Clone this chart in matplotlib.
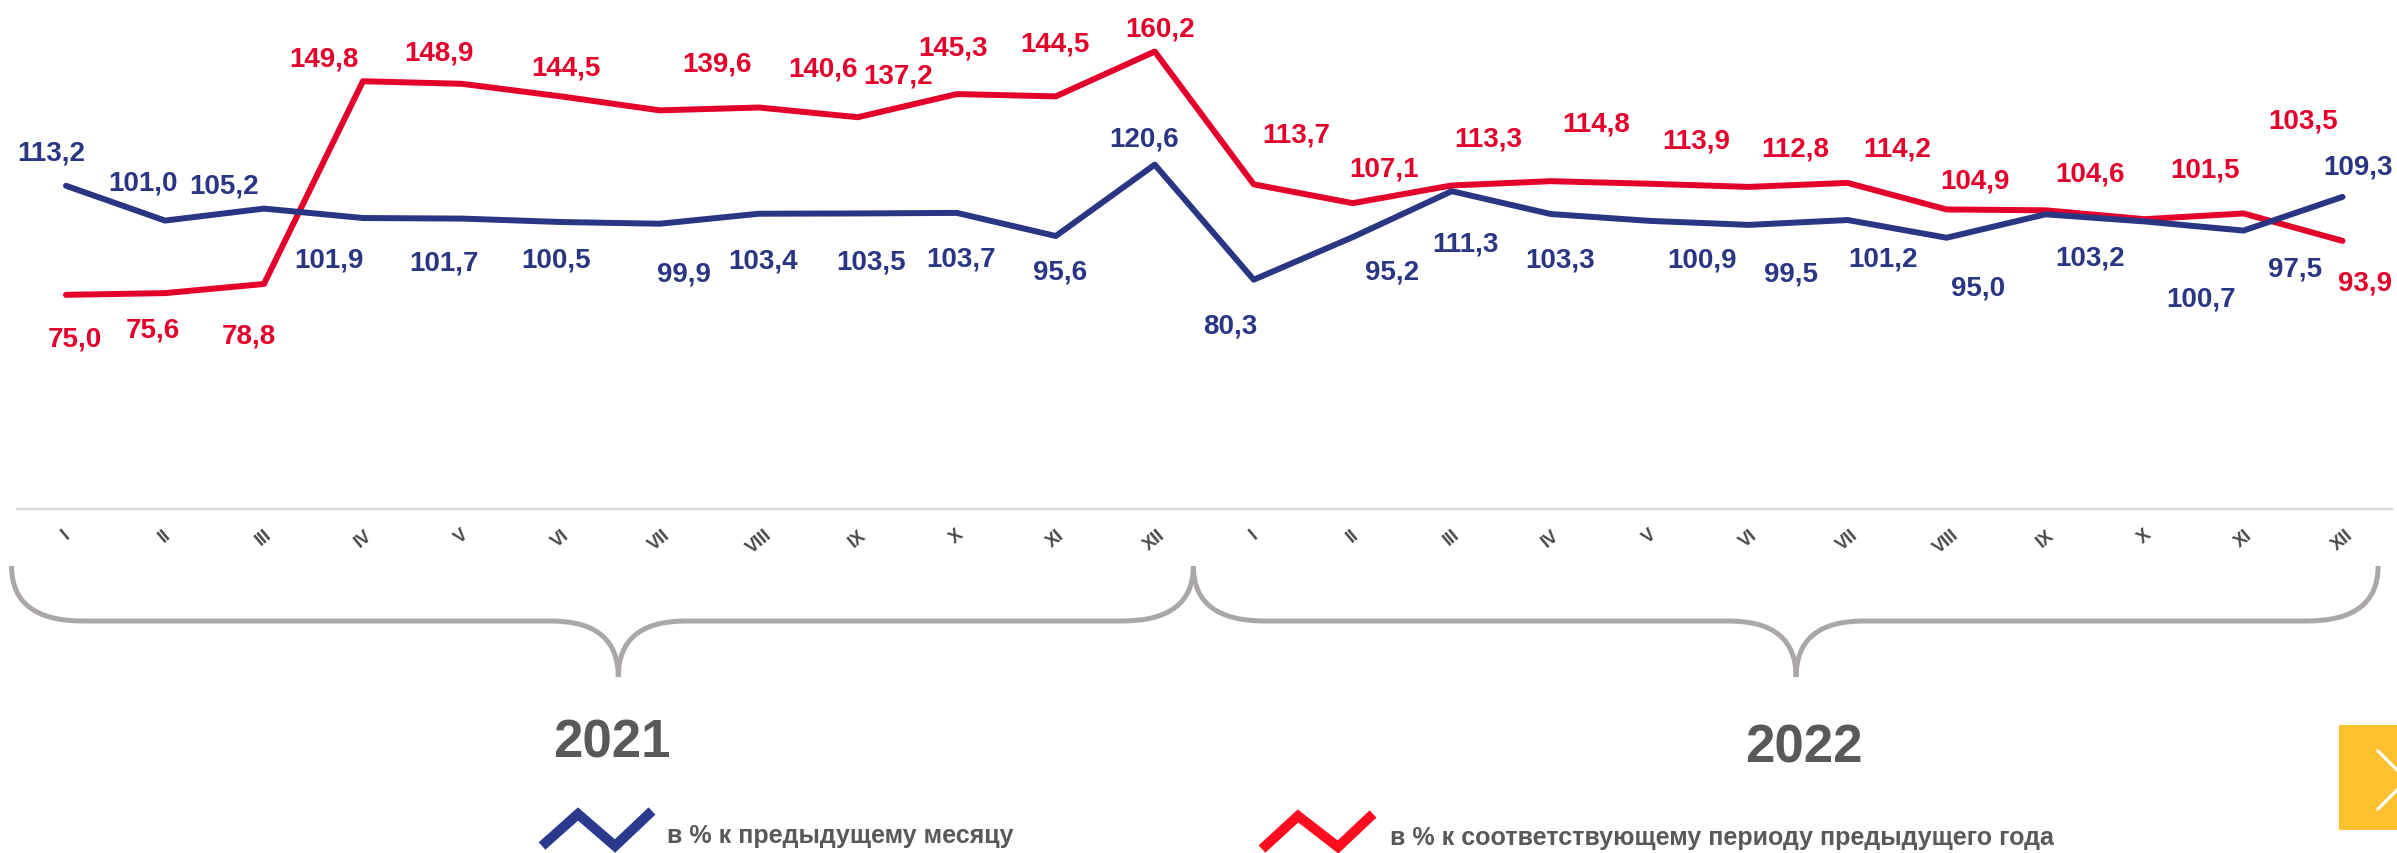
import numpy as np
import matplotlib
matplotlib.use("Agg")
import matplotlib.pyplot as plt
from matplotlib import transforms
from matplotlib.path import Path
from matplotlib.patches import PathPatch, Rectangle
from matplotlib.lines import Line2D

plt.rcParams['font.family'] = ['Liberation Sans', 'DejaVu Sans']

# --- data -------------------------------------------------------------
months = ['I', 'II', 'III', 'IV', 'V', 'VI', 'VII', 'VIII', 'IX', 'X', 'XI', 'XII']
years = ['2021', '2022']
labels_x = months * 2

# в % к предыдущему месяцу
prev_month = [113.2, 101.0, 105.2, 101.9, 101.7, 100.5, 99.9, 103.4, 103.5, 103.7, 95.6, 120.6,
              80.3, 95.2, 111.3, 103.3, 100.9, 99.5, 101.2, 95.0, 103.2, 100.7, 97.5, 109.3]
# в % к соответствующему периоду предыдущего года
prev_year = [75.0, 75.6, 78.8, 149.8, 148.9, 144.5, 139.6, 140.6, 137.2, 145.3, 144.5, 160.2,
             113.7, 107.1, 113.3, 114.8, 113.9, 112.8, 114.2, 104.9, 104.6, 101.5, 103.5, 93.9]

legend_texts = ['в % к предыдущему месяцу',
                'в % к соответствующему периоду предыдущего года']

# label offsets (pixels, +y = down)
red_off = [(9, 44), (-12, 36), (-15, 52), (-39, -23), (-23, -31), (5, -29), (57, -47), (64, -39),
           (40, -42), (-4, -47), (-1, -53), (5, -23),
           (43, -50), (31, -35), (37, -47), (46, -58), (47, -43), (47, -38), (50, -34), (28, -29),
           (44, -37), (60, -50), (60, -93), (22, 42)]
blue_off = [(-15, -33), (-22, -38), (-40, -23), (-34, 41), (-18, 44), (-5, 37), (24, 50), (4, 47),
            (13, 48), (4, 46), (4, 35), (-11, -26),
            (-23, 46), (39, 34), (14, 52), (9, 45), (52, 39), (42, 49), (35, 38), (31, 50),
            (44, 43), (57, 77), (52, 38), (15, -30)]

BLUE = '#2a3583'
RED = '#e3002b'
GREY_TXT = '#595959'
BRACE = '#aba7a7'

W, H = 2397, 854
fig = plt.figure(figsize=(W / 100, H / 100), dpi=100)
# pixel coords with origin at top-left
pix = transforms.Affine2D().scale(1, -1).translate(0, H)

ax = fig.add_axes([16.5 / W, (H - 510) / H, (2392 - 16.5) / W, 510 / H])
x = np.arange(len(labels_x))
ax.plot(x, prev_year, color=RED, lw=4.3, solid_capstyle='round', zorder=3)
ax.plot(x, prev_month, color=BLUE, lw=4.3, solid_capstyle='round', zorder=4)
ax.set_xlim(-0.5, 23.5)
ax.set_ylim(0, 178.6)

ax.set_xticks(x, labels_x, rotation=40, ha='center', fontsize=13, fontweight='bold',
              color='#4a4a4a')
ax.tick_params(axis='x', length=0, pad=12)
ax.set_yticks([])
for s in ['top', 'left', 'right']:
    ax.spines[s].set_visible(False)
ax.spines['bottom'].set_color('#d9d9d9')
ax.spines['bottom'].set_linewidth(1.6)
ax.patch.set_alpha(0)

for vals, offs, col in [(prev_year, red_off, RED), (prev_month, blue_off, BLUE)]:
    for i, (v, (dx, dy)) in enumerate(zip(vals, offs)):
        ax.annotate(f"{v:.1f}".replace('.', ','), (i, v), xytext=(dx, -dy),
                    textcoords='offset pixels', ha='center', va='center',
                    fontsize=20, fontweight='bold', color=col, annotation_clip=False)

# --- braces under the month axis -----------------------------------------
btr = transforms.blended_transform_factory(ax.transData, pix)


def brace(x0, x1, xc, y0=567, y1=622, y2=678, r=0.72, r2=0.68):
    verts = [(x0, y0), (x0, y1), (x0 + r, y1), (xc - r2, y1), (xc, y1), (xc, y2),
             (xc, y1), (xc + r2, y1), (x1 - r, y1), (x1, y1), (x1, y0)]
    codes = [Path.MOVETO, Path.CURVE3, Path.CURVE3, Path.LINETO, Path.CURVE3, Path.CURVE3,
             Path.CURVE3, Path.CURVE3, Path.LINETO, Path.CURVE3, Path.CURVE3]
    fig.add_artist(PathPatch(Path(verts, codes), transform=btr, fill=False,
                             edgecolor=BRACE, lw=3.6, capstyle='butt'))


brace(-0.55, 11.39, 5.58)
brace(11.39, 23.36, 17.48)

fig.text(612, 744, years[0], transform=pix, ha='center', va='center',
         fontsize=38, fontweight='bold', color=GREY_TXT)
fig.text(1804, 749, years[1], transform=pix, ha='center', va='center',
         fontsize=38, fontweight='bold', color=GREY_TXT)

# --- legend ---------------------------------------------------------------
fig.add_artist(Line2D([542, 578, 615, 652], [847, 815, 847, 812], transform=pix,
                      color='#2b3a8c', lw=7.2, solid_joinstyle='miter', solid_capstyle='butt'))
fig.text(667, 843, legend_texts[0], transform=pix, va='baseline',
         fontsize=18, fontweight='bold', color=GREY_TXT)
fig.add_artist(Line2D([1262, 1298, 1338, 1373], [850, 817, 848, 815], transform=pix,
                      color='#ff0d1f', lw=7.2, solid_joinstyle='miter', solid_capstyle='butt'))
fig.text(1390, 845, legend_texts[1], transform=pix, va='baseline',
         fontsize=18, fontweight='bold', color=GREY_TXT)

# yellow "next" button
fig.add_artist(Rectangle((2339, 726), 60, 105, transform=pix, color='#fdc02e', lw=0))
fig.add_artist(Line2D([2378, 2407, 2378], [752, 781, 810], transform=pix, color='white',
                      lw=2.4, solid_capstyle='round'))

fig.savefig('out.png', dpi=100)
